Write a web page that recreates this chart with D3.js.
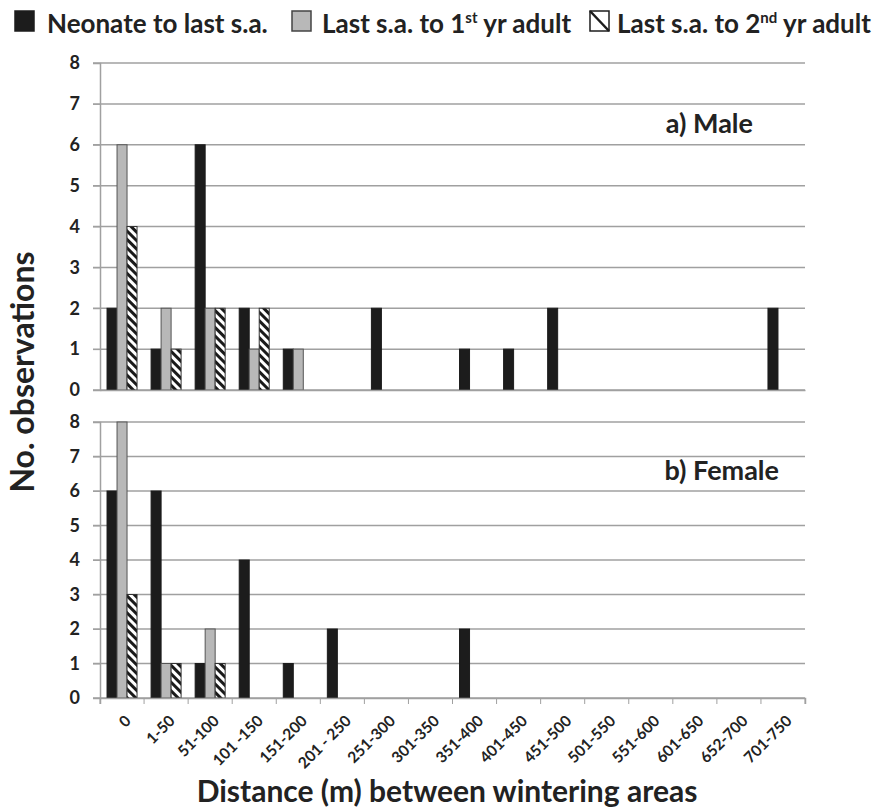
<!DOCTYPE html>
<html lang="en">
<head>
<meta charset="utf-8">
<title>Distance between wintering areas</title>
<script src="https://d3js.org/d3.v7.min.js"></script>
<style>
  body { margin: 0; background: #fff; }
  svg text { font-family: Lato, "Open Sans", sans-serif; font-weight: bold; fill: #222; }
</style>
</head>
<body>
<script>
// categories (distance bins, m)
var categories = ["0", "1-50", "51-100", "101 -150", "151-200", "201 - 250", "251-300", "301-350",
  "351-400", "401-450", "451-500", "501-550", "551-600", "601-650", "652-700", "701-750"];
var seriesNames = ["neo", "first", "second"];
var yTicks = [0, 1, 2, 3, 4, 5, 6, 7, 8];

// a) Male
var maleNeonate = [2, 1, 6, 2, 1, 0, 2, 0, 1, 1, 2, 0, 0, 0, 0, 2];
var maleFirst   = [6, 2, 2, 1, 1, 0, 0, 0, 0, 0, 0, 0, 0, 0, 0, 0];
var maleSecond  = [4, 1, 2, 2, 0, 0, 0, 0, 0, 0, 0, 0, 0, 0, 0, 0];
// b) Female
var femaleNeonate = [6, 6, 1, 4, 1, 2, 0, 0, 2, 0, 0, 0, 0, 0, 0, 0];
var femaleFirst   = [8, 1, 2, 0, 0, 0, 0, 0, 0, 0, 0, 0, 0, 0, 0, 0];
var femaleSecond  = [3, 1, 1, 0, 0, 0, 0, 0, 0, 0, 0, 0, 0, 0, 0, 0];

var width = 885, height = 812;
var svg = d3.select("body").append("svg")
  .attr("width", width)
  .attr("height", height);

// hatch pattern
var defs = svg.append("defs");
var pat = defs.append("pattern")
  .attr("id", "hatch")
  .attr("patternUnits", "userSpaceOnUse")
  .attr("width", 6).attr("height", 6)
  .attr("patternTransform", "rotate(45)");
pat.append("rect").attr("width", 6).attr("height", 6).attr("fill", "#fff");
pat.append("rect").attr("width", 6).attr("height", 3).attr("fill", "#1a1a1a");

var fills = { neo: "#1c1c1c", first: "#b8b8b8", second: "url(#hatch)" };
var strokes = { neo: "#1c1c1c", first: "#555", second: "#333" };

var x = d3.scaleBand().domain(categories).range([100, 805]).padding(0);
var xs = d3.scaleBand().domain(seriesNames).range([0, 30]);
var groupOff = (x.bandwidth() - 30) / 2;

var panels = [
  { label: "a) Male", y0: 390, y1: 63, labelX: 753, labelY: 133, showX: false,
    data: { neo: maleNeonate, first: maleFirst, second: maleSecond } },
  { label: "b) Female", y0: 698, y1: 422, labelX: 779, labelY: 480, showX: true,
    data: { neo: femaleNeonate, first: femaleFirst, second: femaleSecond } }
];

panels.forEach(function(p) {
  var y = d3.scaleLinear().domain([0, 8]).range([p.y0, p.y1]);
  var g = svg.append("g");

  // gridlines
  g.selectAll("line.grid").data(yTicks).enter().append("line")
    .attr("class", "grid")
    .attr("x1", 93).attr("x2", 805)
    .attr("y1", d => y(d)).attr("y2", d => y(d))
    .attr("stroke", "#a0a0a0").attr("stroke-width", 1.5);

  // y axis
  var yAxis = g.append("g")
    .attr("transform", "translate(100,0)")
    .call(d3.axisLeft(y).tickValues(yTicks).tickSize(7).tickPadding(13));
  yAxis.select(".domain").attr("stroke", "#a0a0a0").attr("stroke-width", 1.5);
  yAxis.selectAll(".tick line").attr("stroke", "#a0a0a0");
  yAxis.selectAll("text").style("font-size", "18px").attr("fill", "#222");

  // bars
  seriesNames.forEach(function(s) {
    var rows = p.data[s].map((v, i) => ({ cat: categories[i], v: v })).filter(d => d.v > 0);
    g.selectAll("rect.bar-" + s).data(rows).enter().append("rect")
      .attr("class", "bar-" + s)
      .attr("x", d => x(d.cat) + groupOff + xs(s))
      .attr("width", xs.bandwidth())
      .attr("y", d => y(d.v))
      .attr("height", d => y(0) - y(d.v))
      .attr("fill", fills[s])
      .attr("stroke", strokes[s])
      .attr("stroke-width", 1);
  });

  // bottom category axis
  var xAxis = g.append("g")
    .attr("transform", "translate(0," + p.y0 + ")")
    .call(d3.axisBottom(x).tickSize(p.showX ? 6 : 0).tickFormat(p.showX ? null : ""));
  xAxis.select(".domain").attr("stroke", "#a0a0a0").attr("stroke-width", 1.5);
  xAxis.selectAll(".tick line").attr("stroke", "#a0a0a0")
    .attr("transform", "translate(" + (-x.bandwidth() / 2) + ",0)");
  if (p.showX) {
    xAxis.append("line").attr("x1", 805).attr("x2", 805).attr("y1", 0).attr("y2", 6)
      .attr("stroke", "#a0a0a0");
    xAxis.selectAll(".tick text")
      .style("font-size", "15.5px")
      .attr("fill", "#222")
      .attr("text-anchor", "end")
      .attr("x", 0).attr("y", 0)
      .attr("dy", "0.35em")
      .attr("transform", "translate(6,20) rotate(-45)");
  }

  // panel label
  svg.append("text")
    .attr("x", p.labelX).attr("y", p.labelY)
    .attr("text-anchor", "end")
    .style("font-size", "27px")
    .text(p.label);
});

// axis titles
svg.append("text")
  .attr("transform", "translate(34,372) rotate(-90)")
  .attr("text-anchor", "middle")
  .style("font-size", "32px")
  .text("No. observations");

svg.append("text")
  .attr("x", 447).attr("y", 802)
  .attr("text-anchor", "middle")
  .style("font-size", "30px")
  .text("Distance (m) between wintering areas");

// legend
var legendItems = [
  { key: "neo", x: 15, tx: 47, text: ["Neonate to last s.a."] },
  { key: "first", x: 292, tx: 322, text: ["Last s.a. to 1", "st", " yr adult"] },
  { key: "second", x: 590, tx: 617, text: ["Last s.a. to 2", "nd", " yr adult"] }
];
var lg = svg.append("g").attr("class", "legend");
legendItems.forEach(function(it) {
  lg.append("rect")
    .attr("x", it.x).attr("y", 11)
    .attr("width", 19).attr("height", 20)
    .attr("fill", it.key === "second" ? "#fff" : fills[it.key])
    .attr("stroke", it.key === "first" ? "#444" : "#1c1c1c").attr("stroke-width", 1.5);
  if (it.key === "second") {
    lg.append("line").attr("x1", it.x).attr("y1", 11).attr("x2", it.x + 19).attr("y2", 31)
      .attr("stroke", "#1c1c1c").attr("stroke-width", 2.5);
  }
  var t = lg.append("text")
    .attr("x", it.tx).attr("y", 33)
    .style("font-size", "26px");
  t.append("tspan").text(it.text[0]);
  if (it.text.length > 1) {
    t.append("tspan").attr("dy", -10).style("font-size", "15px").text(it.text[1]);
    t.append("tspan").attr("dy", 10).text(it.text[2]);
  }
});
</script>
</body>
</html>
